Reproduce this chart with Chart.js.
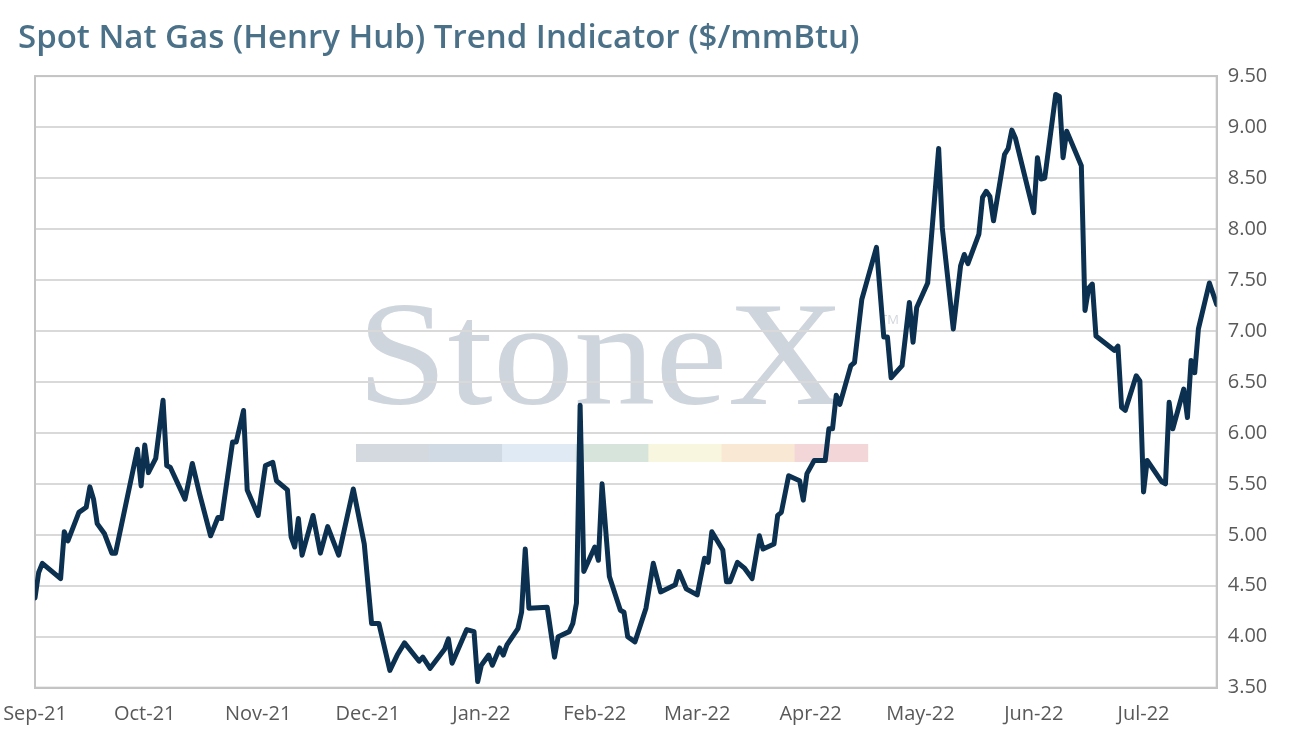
<!DOCTYPE html>
<html>
<head>
  <title>Spot Nat Gas Trend</title>
  <script src="https://cdn.jsdelivr.net/npm/chart.js"></script>
  <style>
    body { margin: 0; background: #fff; }
  </style>
</head>
<body>
  <canvas id="gasChart" width="1293" height="746"></canvas>

  <script>
    // days since 1 Sep 2021
    const dayOffsets = [0,1,2,7,8,9,12,14,15,16,17,19,21,22,28,29,30,31,33,35,36,37,41,42,43,45,48,50,51,54,55,57,58,61,63,65,66,69,70,71,72,73,76,78,80,83,87,90,92,94,97,99,101,105,106,108,112,113,114,118,120,121,122,124,125,127,128,129,132,133,134,135,140,142,143,146,147,148,149,150,153,154,155,157,160,161,162,164,167,169,171,175,176,178,181,183,184,185,188,189,190,192,194,196,198,199,202,203,204,206,209,210,211,213,216,217,218,219,220,223,224,226,230,232,233,234,237,239,240,241,244,247,248,251,253,254,255,258,259,260,261,262,265,266,267,268,273,274,275,276,279,280,281,282,286,287,288,289,290,295,296,297,298,301,302,303,304,308,309,310,311,314,315,316,317,318,321,323];

    // Henry Hub spot, $/mmBtu
    const prices = [4.38,4.63,4.72,4.57,5.03,4.94,5.22,5.27,5.47,5.35,5.11,5.01,4.82,4.82,5.84,5.48,5.88,5.61,5.75,6.32,5.68,5.66,5.35,5.52,5.70,5.40,4.99,5.17,5.16,5.91,5.91,6.22,5.44,5.19,5.68,5.71,5.53,5.44,4.98,4.88,5.16,4.80,5.19,4.82,5.08,4.80,5.45,4.91,4.13,4.13,3.67,3.82,3.94,3.76,3.80,3.69,3.88,3.98,3.74,4.07,4.05,3.56,3.72,3.82,3.72,3.89,3.82,3.92,4.08,4.24,4.86,4.28,4.29,3.80,4.00,4.05,4.13,4.33,6.27,4.64,4.88,4.75,5.50,4.59,4.26,4.24,4.00,3.95,4.28,4.72,4.44,4.51,4.64,4.47,4.41,4.77,4.73,5.03,4.85,4.54,4.54,4.73,4.67,4.57,4.99,4.86,4.91,5.19,5.22,5.58,5.53,5.34,5.60,5.73,5.73,6.04,6.04,6.37,6.28,6.66,6.69,7.31,7.82,6.94,6.94,6.54,6.66,7.28,6.89,7.23,7.47,8.79,8.01,7.02,7.64,7.75,7.66,7.95,8.31,8.37,8.32,8.08,8.73,8.79,8.97,8.89,8.16,8.70,8.49,8.50,9.32,9.30,8.70,8.96,8.62,7.20,7.42,7.46,6.95,6.81,6.85,6.25,6.22,6.56,6.51,5.42,5.73,5.52,5.50,6.30,6.04,6.43,6.15,6.71,6.59,7.02,7.47,7.26];

    const monthDays = [0, 30, 61, 91, 122, 153, 181, 212, 242, 273, 303];
    const monthLabels = ['Sep-21','Oct-21','Nov-21','Dec-21','Jan-22','Feb-22','Mar-22','Apr-22','May-22','Jun-22','Jul-22'];

    const points = dayOffsets.map((d, i) => ({ x: d, y: prices[i] }));

    // faint logo behind the grid
    const watermark = {
      id: 'watermark',
      beforeDraw(chart) {
        const ctx = chart.ctx;
        ctx.save();
        ctx.fillStyle = '#cfd5dd';
        ctx.font = '148px "Liberation Serif"';
        ctx.textBaseline = 'alphabetic';
        const w = ctx.measureText('StoneX').width;
        ctx.translate(357, 404);
        ctx.scale(488 / w, 1);
        ctx.fillText('StoneX', 0, 0);
        ctx.restore();

        ctx.save();
        ctx.fillStyle = '#d3d8de';
        ctx.font = '13px "Open Sans"';
        ctx.fillText('TM', 880, 324);
        const bars = ['#d4d9e0','#d0dae5','#dfeaf4','#d6e4db','#f8f6de','#f9e9d4','#f2d6d8'];
        bars.forEach((c, i) => {
          ctx.fillStyle = c;
          ctx.fillRect(356 + i * 73.1, 444, 73.6, 18);
        });
        ctx.restore();
      }
    };

    const frame = {
      id: 'frame',
      beforeDatasetsDraw(chart) {
        const a = chart.chartArea;
        const ctx = chart.ctx;
        ctx.save();
        ctx.strokeStyle = '#c4c4c4';
        ctx.lineWidth = 2;
        ctx.strokeRect(a.left, a.top, a.right - a.left, a.bottom - a.top);
        ctx.restore();
      }
    };

    const ctx = document.getElementById('gasChart').getContext('2d');
    new Chart(ctx, {
      type: 'line',
      data: {
        datasets: [{
          label: 'Henry Hub spot',
          data: points,
          yAxisID: 'y',
          borderColor: '#0b3050',
          borderWidth: 5,
          borderJoinStyle: 'round',
          borderCapStyle: 'round',
          pointRadius: 0,
          tension: 0,
          fill: false
        }]
      },
      options: {
        responsive: false,
        animation: false,
        layout: { padding: { left: 18, right: 0, top: 0, bottom: 0 } },
        plugins: {
          legend: { display: false },
          tooltip: { enabled: false },
          title: {
            display: true,
            text: 'Spot Nat Gas (Henry Hub) Trend Indicator ($/mmBtu)',
            align: 'start',
            color: '#4b7189',
            font: { family: '"Open Sans"', size: 33, weight: '600' },
            padding: { top: 19, bottom: 17.5 }
          }
        },
        scales: {
          x: {
            type: 'linear',
            min: 0,
            max: 323,
            grid: { display: false, drawTicks: true, tickLength: 13 },
            border: { display: true, color: '#c4c4c4', width: 2 },
            afterBuildTicks(scale) {
              scale.ticks = monthDays.map(v => ({ value: v }));
            },
            afterFit(scale) { scale.height = 58.3; },
            ticks: {
              autoSkip: false,
              maxRotation: 0,
              padding: 2,
              color: '#595959',
              font: { family: '"Open Sans"', size: 20 },
              callback: (value) => monthLabels[monthDays.indexOf(value)]
            }
          },
          yl: {
            position: 'left',
            display: true,
            grid: { display: false },
            border: { display: false },
            ticks: { display: false },
            afterFit(scale) { scale.width = 17; }
          },
          y: {
            position: 'right',
            min: 3.5,
            max: 9.5,
            grid: { color: '#d9d9d9', lineWidth: 2, drawTicks: false },
            border: { display: true, color: '#c4c4c4', width: 2 },
            afterFit(scale) { scale.width = 76.3; },
            ticks: {
              stepSize: 0.5,
              padding: 11,
              color: '#595959',
              font: { family: '"Open Sans"', size: 20 },
              callback: (v) => v.toFixed(2)
            }
          }
        }
      },
      plugins: [watermark, frame]
    });
  </script>
</body>
</html>
